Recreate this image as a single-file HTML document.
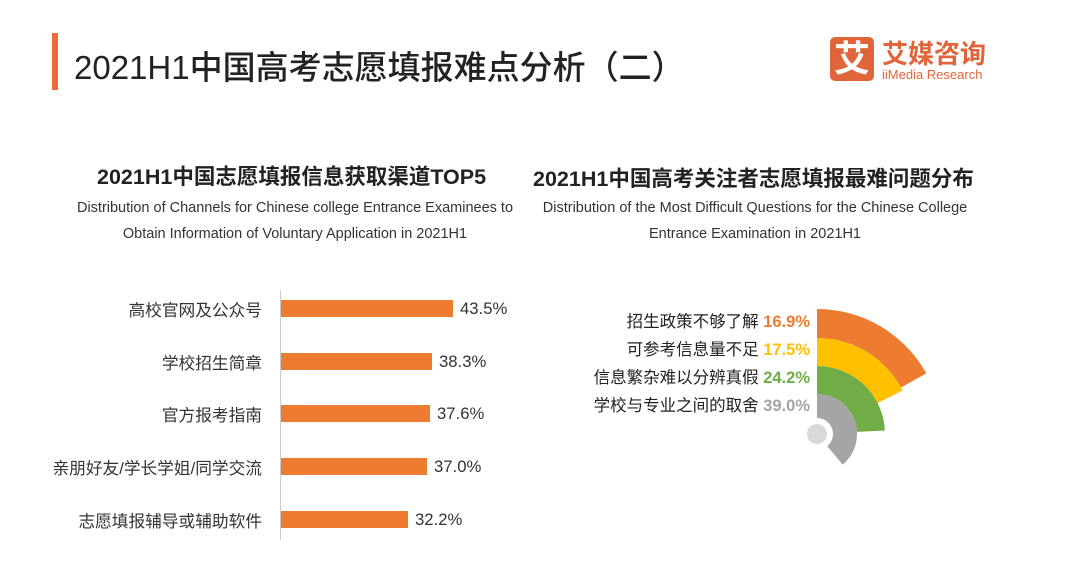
<!DOCTYPE html>
<html><head><meta charset="utf-8"><style>
body{margin:0;width:1080px;height:588px;background:#fff;font-family:"Liberation Sans","Noto Sans CJK SC",sans-serif;position:relative;overflow:hidden;color:#222}
.a{position:absolute;white-space:nowrap}
.bar{position:absolute;left:281px;height:17px;background:#ee7c30}
.lab{position:absolute;right:818px;font-size:16.7px;color:#333}
.val{position:absolute;font-size:16.7px;color:#333}
</style></head><body>
<div class="a" style="left:52px;top:33px;width:6px;height:57px;background:#ee6a3c"></div>
<div class="a" style="left:74px;top:41px;font-size:33px;color:#222;font-weight:500">2021H1中国高考志愿填报难点分析（二）</div>
<div class="a" style="left:830px;top:37px;width:44px;height:44px;background:#e0653a;border-radius:5px;color:#fff;font-size:36px;line-height:44px;text-align:center;font-weight:bold">艾</div>
<div class="a" style="left:882px;top:34px;font-size:26px;color:#e0653a;font-weight:bold">艾媒咨询</div>
<div class="a" style="left:882px;top:67px;font-size:13px;color:#e0653a">iiMedia Research</div>

<div class="a" style="left:97px;top:160px;font-size:21.5px;font-weight:bold">2021H1中国志愿填报信息获取渠道TOP5</div>
<div class="a" style="left:0;width:590px;top:195px;font-size:14.5px;text-align:center;line-height:26px;color:#333">Distribution of Channels for Chinese college Entrance Examinees to<br>Obtain Information of Voluntary Application in 2021H1</div>
<div class="a" style="left:533px;top:162px;font-size:21.5px;font-weight:bold">2021H1中国高考关注者志愿填报最难问题分布</div>
<div class="a" style="left:500px;width:510px;top:195px;font-size:14.5px;text-align:center;line-height:26px;color:#333">Distribution of the Most Difficult Questions for the Chinese College<br>Entrance Examination in 2021H1</div>

<div class="a" style="left:280px;top:290px;width:1px;height:250px;background:#ccc"></div>
<div class="lab" style="top:297px">高校官网及公众号</div><div class="bar" style="top:300px;width:172px"></div><div class="val" style="left:460px;top:299px">43.5%</div>
<div class="lab" style="top:350px">学校招生简章</div><div class="bar" style="top:353px;width:151px"></div><div class="val" style="left:439px;top:352px">38.3%</div>
<div class="lab" style="top:402px">官方报考指南</div><div class="bar" style="top:405px;width:149px"></div><div class="val" style="left:437px;top:404px">37.6%</div>
<div class="lab" style="top:455px">亲朋好友/学长学姐/同学交流</div><div class="bar" style="top:458px;width:146px"></div><div class="val" style="left:434px;top:457px">37.0%</div>
<div class="lab" style="top:508px">志愿填报辅导或辅助软件</div><div class="bar" style="top:511px;width:127px"></div><div class="val" style="left:415px;top:510px">32.2%</div>

<div class="a" style="right:270px;top:308px;font-size:16.5px;text-align:right;line-height:28px">
招生政策不够了解 <b style="color:#ee7c30">16.9%</b><br>
可参考信息量不足 <b style="color:#ffc000">17.5%</b><br>
信息繁杂难以分辨真假 <b style="color:#70ad47">24.2%</b><br>
学校与专业之间的取舍 <b style="color:#a5a5a5">39.0%</b></div>

<svg class="a" style="left:0;top:0" width="1080" height="588">
<g transform="translate(817,434)"></g>
</svg>
<script>
function arc(r0,r1,deg,col){
 var a=(deg-90)*Math.PI/180, L=deg>180?1:0;
 var x1=r1*Math.cos(a),y1=r1*Math.sin(a),x0=r0*Math.cos(a),y0=r0*Math.sin(a);
 return '<path fill="'+col+'" d="M0 '+(-r1)+' A'+r1+' '+r1+' 0 '+L+' 1 '+x1+' '+y1+' L'+x0+' '+y0+' A'+r0+' '+r0+' 0 '+L+' 0 0 '+(-r0)+'Z"/>';
}
var g=document.querySelector('svg g');
g.innerHTML=arc(96,125,61,'#ee7c30')+arc(68,96,63,'#ffc000')+arc(40,68,87,'#70ad47')+arc(16,40,140,'#a5a5a5')+'<circle cx="0" cy="0" r="10" fill="#d9d9d9"/>';
</script>
</body></html>
